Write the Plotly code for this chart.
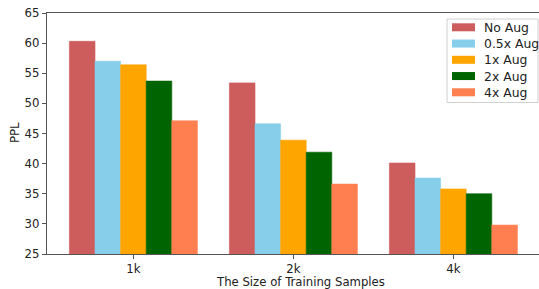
import plotly.graph_objects as go

categories = ["1k", "2k", "4k"]
series_names = ["No Aug", "0.5x Aug", "1x Aug", "2x Aug", "4x Aug"]
no_aug = [60.3, 53.4, 40.1]
aug_05x = [57.0, 46.6, 37.6]
aug_1x = [56.4, 43.9, 35.8]
aug_2x = [53.7, 41.9, 35.0]
aug_4x = [47.1, 36.6, 29.8]
colors = ["#CD5C5C", "#87CEEB", "#FFA500", "#006400", "#FF7F50"]
y_ticks = [25, 30, 35, 40, 45, 50, 55, 60, 65]

W, H = 539, 289
L, R, T, B = 47, 0, 13, 35
pw, ph = W - L - R, H - T - B

values = [no_aug, aug_05x, aug_1x, aug_2x, aug_4x]
fig = go.Figure()
xs = list(range(len(categories)))
for name, vals, c in zip(series_names, values, colors):
    fig.add_trace(go.Bar(x=xs, y=[v - 25 for v in vals], base=25, name=name,
                         marker=dict(color=c, line=dict(width=0.6, color=c)),
                         hoverinfo="skip", showlegend=False))

txt = dict(family="DejaVu Sans", size=11.7, color="#222")
leg_txt = dict(family="DejaVu Sans", size=12.4, color="#222")

def px(x):
    return (x - L) / pw

def py(y):
    return (H - B - y) / ph

shapes = []
annotations = []
# legend box
shapes.append(dict(type="rect", xref="paper", yref="paper",
                   x0=px(447), x1=px(538), y0=py(102.5), y1=py(19),
                   line=dict(color="#d0d0d0", width=1), fillcolor="white"))
for i, (name, c) in enumerate(zip(series_names, colors)):
    yc = 27.3 + i * 16.25
    shapes.append(dict(type="rect", xref="paper", yref="paper",
                       x0=px(452), x1=px(475), y0=py(yc + 4), y1=py(yc - 4),
                       line=dict(width=0), fillcolor=c))
    annotations.append(dict(text=name, xref="paper", yref="paper",
                            x=px(482), y=py(yc), xanchor="left", yanchor="middle",
                            showarrow=False, font=leg_txt))
annotations.append(dict(text="The Size of Training Samples", xref="paper", yref="paper",
                        x=px(300), y=py(282), xanchor="center", yanchor="middle",
                        showarrow=False, font=txt))
annotations.append(dict(text="PPL", xref="paper", yref="paper",
                        x=px(15), y=py(133), xanchor="center", yanchor="middle",
                        textangle=-90, showarrow=False, font=txt))

fig.update_layout(
    width=W, height=H,
    margin=dict(l=L, r=R, t=T, b=B, autoexpand=False),
    barmode="group", bargap=0.2, bargroupgap=0,
    plot_bgcolor="white", paper_bgcolor="white",
    font=txt,
    showlegend=False,
    shapes=shapes, annotations=annotations,
    xaxis=dict(range=[-0.54, 2.535], tickmode="array", tickvals=xs,
               ticktext=categories, showline=True, linecolor="#555",
               linewidth=1.2, mirror=True, ticks="outside", ticklen=4,
               tickcolor="#555", showgrid=False, zeroline=False,
               automargin=False, tickfont=txt),
    yaxis=dict(range=[25, 65], tickmode="array", tickvals=y_ticks,
               showline=True, linecolor="#555", linewidth=1.2,
               ticks="outside", ticklen=4, tickcolor="#555",
               showgrid=False, zeroline=False, automargin=False, tickfont=txt),
)
fig.write_html("out.html", config={"displayModeBar": False, "staticPlot": True},
               post_script="document.body.style.margin='0';document.body.style.overflow='hidden';")
